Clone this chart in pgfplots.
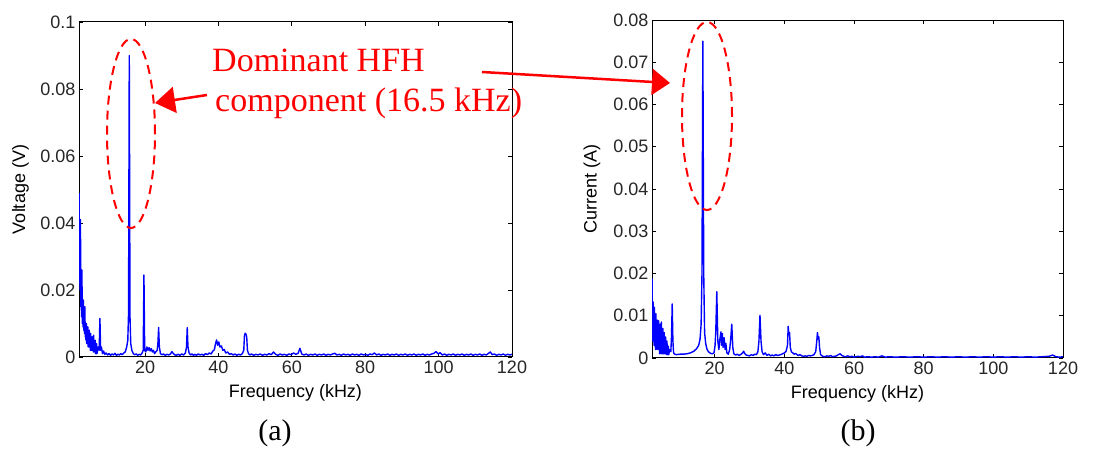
\documentclass[border=0pt]{standalone}
\usepackage{pgfplots}
\pgfplotsset{compat=1.18}
\usepackage{fontspec}
\setmainfont{Liberation Sans}
\newfontfamily\timesfont{Liberation Serif}
\usetikzlibrary{arrows.meta}

\pgfplotstableread{
f v
2.05 0.049
2.12 0.022
2.2 0.030
2.3 0.020
2.4 0.041
2.5 0.015
2.6 0.018
2.7 0.012
2.8 0.026
2.9 0.010
3.0 0.014
3.1 0.009
3.2 0.017
3.3 0.008
3.4 0.011
3.5 0.007
3.6 0.015
3.7 0.006
3.8 0.008
3.9 0.005
4.0 0.010
4.1 0.004
4.2 0.006
4.3 0.004
4.4 0.009
4.5 0.003
4.6 0.005
4.7 0.003
4.8 0.008
4.9 0.003
5.0 0.004
5.1 0.002
5.2 0.007
5.3 0.002
5.4 0.003
5.5 0.002
5.6 0.006
5.7 0.002
5.8 0.004
5.9 0.0015
6.0 0.0065
6.1 0.0015
6.2 0.003
6.3 0.0015
6.4 0.005
6.5 0.001
6.6 0.002
6.7 0.001
6.8 0.004
6.9 0.001
7.0 0.0015
7.2 0.003
7.5 0.002
7.7 0.0115
7.9 0.002
8.1 0.003
8.4 0.001
8.7 0.0018
9.0 0.0008
9.4 0.0012
9.8 0.0006
10.2 0.001
10.6 0.0005
11.0 0.0009
11.4 0.0006
11.8 0.0011
12.2 0.0005
12.6 0.0008
13.0 0.0006
13.4 0.001
13.8 0.0007
14.2 0.0012
14.6 0.0015
15.0 0.003
15.3 0.005
15.5 0.013
15.7 0.090
15.9 0.012
16.1 0.004
16.4 0.002
16.8 0.001
17.2 0.0007
17.6 0.0009
18.0 0.0005
18.4 0.0008
18.8 0.0006
19.2 0.0012
19.5 0.002
19.7 0.0245
19.9 0.002
20.2 0.0015
20.5 0.003
20.8 0.002
21.1 0.0028
21.4 0.0018
21.7 0.0025
22.0 0.0015
22.3 0.002
22.6 0.001
22.9 0.0015
23.3 0.002
23.5 0.004
23.7 0.0088
23.9 0.003
24.2 0.001
24.6 0.0007
25.0 0.0009
25.5 0.0005
26.0 0.0008
26.5 0.0006
27.0 0.001
27.3 0.0016
27.6 0.0012
28.0 0.0007
28.5 0.0005
29.0 0.0008
29.5 0.0005
30.0 0.0009
30.5 0.0006
31.0 0.0012
31.3 0.003
31.5 0.0088
31.7 0.003
32.0 0.0012
32.4 0.0006
32.8 0.0009
33.2 0.0005
33.6 0.0008
34.0 0.0005
34.5 0.0009
35.0 0.0006
35.5 0.0008
36.0 0.0005
36.5 0.001
37.0 0.0007
37.5 0.0012
38.0 0.0009
38.5 0.0018
38.9 0.0022
39.2 0.004
39.5 0.0051
39.8 0.0035
40.1 0.0045
40.4 0.003
40.8 0.0033
41.2 0.002
41.6 0.0022
42.0 0.0012
42.5 0.0015
43.0 0.0008
43.5 0.001
44.0 0.0006
44.5 0.0009
45.0 0.0005
45.5 0.0008
46.0 0.0006
46.5 0.001
46.9 0.002
47.1 0.0065
47.3 0.0071
47.5 0.0068
47.7 0.006
47.9 0.002
48.2 0.001
48.6 0.0006
49.0 0.0009
49.6 0.0005
50.2 0.0008
50.8 0.0006
51.4 0.0009
52.0 0.0005
52.6 0.0008
53.2 0.0006
53.8 0.001
54.4 0.0007
55.0 0.0015
55.6 0.0008
56.2 0.0005
56.8 0.0009
57.4 0.0006
58.0 0.0008
58.6 0.0005
59.2 0.0009
59.8 0.0007
60.5 0.0012
61.1 0.0008
61.7 0.0011
62.2 0.0026
62.7 0.0009
63.3 0.0006
63.9 0.0009
64.5 0.0005
65.1 0.0008
65.7 0.0006
66.3 0.0009
66.9 0.0005
67.5 0.0008
68.1 0.0006
68.7 0.0009
69.3 0.0005
69.9 0.0008
70.5 0.0006
71.1 0.0009
71.7 0.0011
72.3 0.0006
72.9 0.0008
73.5 0.0005
74.1 0.0009
74.7 0.0006
75.3 0.0008
75.9 0.0005
76.5 0.0009
77.1 0.0006
77.7 0.0008
78.3 0.0005
78.9 0.0009
79.5 0.0006
80.1 0.0008
80.7 0.0005
81.3 0.0009
81.9 0.0007
82.5 0.0012
83.1 0.0006
83.7 0.0009
84.3 0.0005
84.9 0.0008
85.5 0.0006
86.1 0.0009
86.7 0.0005
87.3 0.0008
87.9 0.0006
88.5 0.0009
89.1 0.0005
89.7 0.0008
90.3 0.0006
90.9 0.0009
91.5 0.0005
92.1 0.0008
92.7 0.0006
93.3 0.0009
93.9 0.0005
94.5 0.0008
95.1 0.0006
95.7 0.0009
96.3 0.0005
96.9 0.0008
97.5 0.0006
98.1 0.0009
98.7 0.0011
99.3 0.0016
99.9 0.0009
100.4 0.0013
101.0 0.0006
101.6 0.0009
102.2 0.0005
102.8 0.0008
103.4 0.0006
104.0 0.0009
104.6 0.0005
105.2 0.0008
105.8 0.0006
106.4 0.0009
107.0 0.0005
107.6 0.0008
108.2 0.0006
108.8 0.0009
109.4 0.0005
110.0 0.0008
110.6 0.0006
111.2 0.0009
111.8 0.0005
112.4 0.0008
113.0 0.0006
113.6 0.0011
114.1 0.0015
114.6 0.0007
115.2 0.0009
115.8 0.0005
116.4 0.0008
117.0 0.0006
117.6 0.0009
118.2 0.0005
118.8 0.0008
119.4 0.0006
120.0 0.0008
}\voltage

\pgfplotstableread{
f i
2.05 0.0188
2.1 0.006
2.15 0.010
2.22 0.004
2.3 0.0133
2.4 0.005
2.5 0.008
2.6 0.003
2.7 0.012
2.8 0.004
2.9 0.006
3.0 0.002
3.1 0.0105
3.2 0.003
3.3 0.005
3.4 0.002
3.5 0.009
3.6 0.003
3.7 0.004
3.8 0.002
3.9 0.0088
4.0 0.002
4.1 0.003
4.2 0.001
4.3 0.008
4.4 0.002
4.5 0.003
4.6 0.001
4.7 0.0085
4.8 0.002
4.9 0.002
5.0 0.001
5.1 0.007
5.2 0.001
5.3 0.0025
5.4 0.001
5.5 0.006
5.6 0.001
5.7 0.002
5.8 0.001
5.9 0.005
6.0 0.001
6.1 0.0015
6.2 0.0008
6.3 0.004
6.4 0.0008
6.5 0.001
6.6 0.0008
6.7 0.0028
6.8 0.0008
6.9 0.0012
7.1 0.002
7.4 0.0015
7.6 0.005
7.8 0.0128
8.0 0.004
8.2 0.0012
8.5 0.0009
9.0 0.0008
10.0 0.0009
11.0 0.0009
12.0 0.001
13.0 0.0012
14.0 0.0016
14.8 0.0022
15.4 0.003
15.8 0.0045
16.1 0.008
16.35 0.02
16.6 0.075
16.85 0.02
17.1 0.006
17.4 0.0035
17.8 0.002
18.3 0.0014
18.8 0.0011
19.3 0.001
19.8 0.0012
20.1 0.003
20.3 0.006
20.6 0.0157
20.9 0.004
21.2 0.002
21.5 0.0045
21.8 0.0062
22.0 0.003
22.2 0.0058
22.4 0.0025
22.7 0.0048
23.0 0.002
23.2 0.0035
23.5 0.0012
23.9 0.0009
24.3 0.002
24.6 0.0045
24.9 0.008
25.2 0.0025
25.5 0.001
26.0 0.0007
26.5 0.0009
27.0 0.0006
27.6 0.0009
28.0 0.0012
28.3 0.0016
28.6 0.0011
29.0 0.0007
29.5 0.0006
30.0 0.0005
30.5 0.0008
31.0 0.0006
31.5 0.0009
32.0 0.0008
32.4 0.0015
32.7 0.004
33.0 0.0101
33.3 0.004
33.6 0.0015
34.0 0.0008
34.5 0.0012
35.0 0.0006
35.5 0.0009
36.0 0.0005
36.5 0.0007
37.0 0.0005
37.5 0.0008
38.0 0.0006
38.5 0.0007
39.0 0.0008
39.5 0.001
40.0 0.0012
40.5 0.0016
40.9 0.003
41.1 0.0075
41.3 0.0055
41.5 0.006
41.7 0.0025
42.0 0.0015
42.4 0.0012
42.8 0.0009
43.2 0.0011
43.6 0.0008
44.0 0.0006
44.5 0.0008
45.0 0.0005
45.5 0.0004
46.0 0.0005
46.5 0.0004
47.0 0.0006
47.5 0.0005
48.0 0.0006
48.5 0.0008
49.0 0.0015
49.3 0.004
49.5 0.006
49.7 0.0045
49.9 0.005
50.1 0.0025
50.4 0.0008
51.0 0.0004
51.6 0.0003
52.2 0.0005
52.8 0.0004
53.3 0.0006
53.8 0.0003
54.4 0.0004
55.0 0.0005
55.5 0.0008
56.0 0.001
56.5 0.0006
57.0 0.0004
57.6 0.0003
58.2 0.0005
58.8 0.0003
59.4 0.0004
60.0 0.0002
60.6 0.0003
61.2 0.0004
61.8 0.0003
62.4 0.0005
63.0 0.0002
64.0 0.0003
65.0 0.0002
66.0 0.0003
67.0 0.0002
68.0 0.0005
69.0 0.0002
70.0 0.0003
72.0 0.0002
74.0 0.0003
76.0 0.0002
78.0 0.0003
80.0 0.0002
82.0 0.0003
84.0 0.0002
86.0 0.0003
88.0 0.0002
90.0 0.0003
92.0 0.0002
94.0 0.0003
96.0 0.0002
98.0 0.0003
100.0 0.0002
102.0 0.0003
104.0 0.0002
106.0 0.0003
108.0 0.0002
110.0 0.0003
112.0 0.0002
114.0 0.0003
116.0 0.0004
117.0 0.0007
118.0 0.0003
119.0 0.0002
120.0 0.0003
}\current

\pgfplotsset{
  mystyle/.style={
    scale only axis,
    xmin=2, xmax=120,
    ymin=0,
    xtick={20,40,60,80,100,120},
    tick align=inside,
    major tick length=4pt,
    axis line style={line width=1pt},
    every tick/.style={black, line width=0.9pt},
    scaled y ticks=false,
    /pgf/number format/assume math mode=true,
    yticklabel style={/pgf/number format/fixed, /pgf/number format/precision=2},
    ticklabel style={font=\fontsize{18}{20}\selectfont, text=black!85},
    label style={font=\fontsize{18}{20}\selectfont},
    xlabel={Frequency (kHz)},
    xlabel style={at={(axis description cs:0.5,0)}, anchor=north, yshift=-24pt},
  }
}

\begin{document}
\begin{tikzpicture}[x=1pt,y=1pt]
\path[use as bounding box] (0,0) rectangle (1107,449);

\begin{axis}[mystyle,
  at={(79pt,92pt)}, anchor=south west,
  width=433pt, height=335pt,
  ymax=0.1,
  ytick={0,0.02,0.04,0.06,0.08,0.1},
  ylabel={Voltage (V)},
  ylabel style={at={(axis description cs:-0.135,0.5)}, anchor=center},
]
\addplot[blue, line width=1.4pt, line join=round] table[x=f,y=v] {\voltage};
\end{axis}

\begin{axis}[mystyle,
  at={(652pt,91pt)}, anchor=south west,
  width=411pt, height=338pt,
  ymax=0.08,
  ytick={0,0.01,0.02,0.03,0.04,0.05,0.06,0.07,0.08},
  ylabel={Current (A)},
  ylabel style={at={(axis description cs:-0.146,0.5)}, anchor=center},
]
\addplot[blue, line width=1.4pt, line join=round] table[x=f,y=i] {\current};
\end{axis}

% annotations
\draw[red, line width=2pt, dash pattern=on 9pt off 6pt] (131,315.5) ellipse [x radius=24, y radius=94.5];
\draw[red, line width=2pt, dash pattern=on 9pt off 6pt] (707,333) ellipse [x radius=25, y radius=94];
\draw[red, line width=2.5pt, -{Triangle[length=20pt,width=26pt]}] (207,354) -- (155,346);
\draw[red, line width=2.5pt, -{Triangle[length=18pt,width=26pt]}] (482,377) -- (670,366);
\node[anchor=base west, text=red, font=\timesfont\fontsize{34}{40}\selectfont, inner sep=0pt] at (212,377) {Dominant HFH};
\node[anchor=base west, text=red, font=\timesfont\fontsize{34}{40}\selectfont, inner sep=0pt] at (215,337) {component (16.5 kHz)};
\node[font=\timesfont\fontsize{30}{34}\selectfont] at (275,16) {(a)};
\node[font=\timesfont\fontsize{30}{34}\selectfont] at (858,16) {(b)};
\end{tikzpicture}
\end{document}
